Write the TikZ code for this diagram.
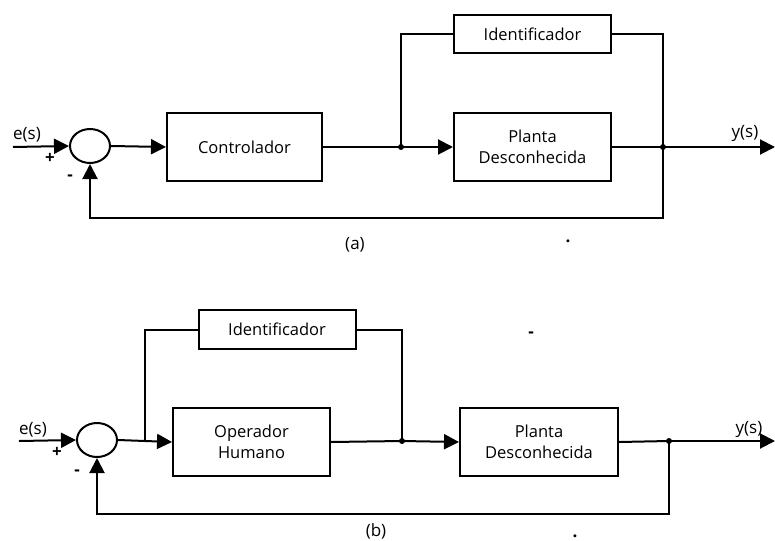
\documentclass[tikz,border=0pt]{standalone}
\usepackage{fontspec}
\setmainfont{Open Sans}
\usepackage{tikz}
\usetikzlibrary{arrows.meta,shapes.geometric}
\tikzstyle{block}=[rectangle, draw, line width=2pt, minimum width=157pt, align=center, font=\fontsize{16.5}{21}\selectfont]
\tikzstyle{summer}=[ellipse, draw, line width=2pt, minimum width=40pt, minimum height=34pt, inner sep=0pt]
\tikzstyle{junction}=[circle, fill, inner sep=0pt, minimum size=6pt]
\tikzstyle{sig}=[line width=2pt]
\tikzstyle{tip}=[line width=2pt, -{Triangle[length=15pt,width=15pt]}]
\tikzstyle{lbl}=[font=\fontsize{17}{18}\selectfont, inner sep=0pt]
\tikzstyle{sign}=[font=\fontsize{17}{18}\selectfont\bfseries, inner sep=0pt]
\newcommand{\bloco}{\node[block]}

\begin{document}
\begin{tikzpicture}[x=1pt,y=-1pt]
	\useasboundingbox (0,0) rectangle (775,540);
	% (a)
	\coordinate (ina) at (13,147);
	\node[summer](suma) at (90,146) {};
	\bloco[minimum width=155pt, minimum height=67pt](ctrla) at (244.5,147) {Controlador};
	\bloco[minimum height=38pt](ida) at (532.5,34) {Identificador};
	\bloco[minimum height=67pt](planta) at (532.5,147) {Planta\\Desconhecida};
	\node[junction](j1a) at (401,147) {};
	\node[junction](j2a) at (663,147) {};
	\coordinate (outa) at (775,147);
	\coordinate (fba) at (663,218);
	\draw[tip] (ina) -- (suma.west);
	\draw[tip] (suma.east) -- (ctrla.west);
	\draw[sig] (ctrla.east) -- (j1a.center);
	\draw[tip] (j1a.center) -- (planta.west);
	\draw[sig] (j1a.center) |- (ida.west);
	\draw[sig] (ida.east) -| (j2a.center);
	\draw[sig] (planta.east) -- (j2a.center);
	\draw[tip] (j2a.center) -- (outa);
	\draw[tip] (j2a.center) -- (fba) -| (suma.south);
	\node[lbl](esa) at (27,135) {e(s)};
	\node[sign](plusa) at (50,158) {+};
	\node[sign](minusa) at (70,178) {-};
	\node[lbl](ysa) at (745,133) {y(s)};
	\node[lbl](capa) at (355,245) {(a)};
	\node[sign](dota) at (568,241) {.};
	% (b)
	\coordinate (inb) at (19,441);
	\node[summer](sumb) at (97,440) {};
	\bloco[minimum height=39pt](idb) at (277,329.5) {Identificador};
	\bloco[minimum height=68pt](oper) at (251.5,442) {Operador\\Humano};
	\bloco[minimum width=158pt, minimum height=68pt](plantb) at (539,442) {Planta\\Desconhecida};
	\coordinate (j0b) at (145,441);
	\node[junction](j1b) at (402,441) {};
	\node[junction](j2b) at (669,441) {};
	\coordinate (outb) at (775,441);
	\coordinate (fbb) at (669,514);
	\draw[tip] (inb) -- (sumb.west);
	\draw[tip] (sumb.east) -- (oper.west);
	\draw[sig] (j0b) |- (idb.west);
	\draw[sig] (idb.east) -| (j1b.center);
	\draw[sig] (oper.east) -- (j1b.center);
	\draw[tip] (j1b.center) -- (plantb.west);
	\draw[sig] (plantb.east) -- (j2b.center);
	\draw[tip] (j2b.center) -- (outb);
	\draw[tip] (j2b.center) -- (fbb) -| (sumb.south);
	\node[lbl](esb) at (33,430) {e(s)};
	\node[sign](plusb) at (57,452) {+};
	\node[sign](minusb) at (77,473) {-};
	\node[lbl](ysb) at (749,429) {y(s)};
	\node[lbl](capb) at (376,531) {(b)};
	\node[sign](dashb) at (531,335) {-};
	\node[sign](dotb) at (575,536) {.};
\end{tikzpicture}
\end{document}
